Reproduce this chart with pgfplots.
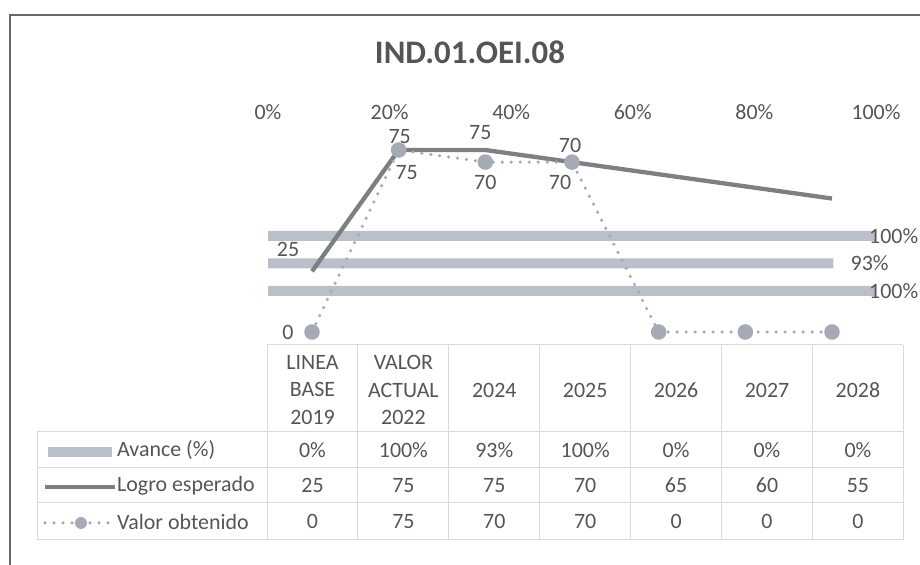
\documentclass[border=0pt]{standalone}
\usepackage{pgfplots}
\pgfplotsset{compat=1.18}
\usepackage{fontspec}
\setmainfont{Carlito}
\definecolor{txt}{RGB}{85,85,85}
\definecolor{barc}{RGB}{186,191,201}
\definecolor{logro}{RGB}{125,127,130}
\definecolor{valor}{RGB}{165,170,182}
\definecolor{gridc}{RGB}{218,218,218}
\definecolor{framec}{RGB}{105,105,105}
\newcommand\tf{\fontsize{22}{28}\selectfont}

\begin{document}
\begin{tikzpicture}[x=1bp,y=1bp]
% frame
\draw[framec, line width=2bp] (10,0) -- (10,550) -- (920,550);
% title
\node[txt, font=\fontsize{33}{40}\selectfont\bfseries] at (470,513) {IND.01.OEI.08};

% ---------- bar axis (Avance %) ----------
\begin{axis}[
  at={(268bp,232.75bp)}, anchor=south west, scale only axis,
  width=608bp, height=209bp,
  xmin=0, xmax=1, ymin=0.5, ymax=8.1,
  xbar, bar width=10bp,
  axis x line*=top, hide y axis,
  x axis line style={draw=none},
  major tick length=0pt,
  xtick={0,0.2,0.4,0.6,0.8,1},
  xticklabels={0\%,20\%,40\%,60\%,80\%,100\%},
  xticklabel style={txt, font=\tf},
  clip=false,
  unbounded coords=discard,
]
\addplot[fill=barc, draw=none, x filter/.expression={x==0 ? nan : x}]
  coordinates {(0,1) (1,2) (0.93,3) (1,4) (0,5) (0,6) (0,7)};
\node[txt, font=\tf, anchor=west, inner sep=0pt, xshift=-7bp] at (axis cs:1,4) {100\%};
\node[txt, font=\tf, anchor=west, inner sep=0pt, xshift=17bp] at (axis cs:0.93,3) {93\%};
\node[txt, font=\tf, anchor=west, inner sep=0pt, xshift=-7bp] at (axis cs:1,2) {100\%};
\end{axis}

% ---------- line axis ----------
\begin{axis}[
  at={(312bp,233bp)}, anchor=south west, scale only axis,
  width=520bp, height=182bp,
  xmin=0, xmax=6, ymin=0, ymax=75,
  hide axis, clip=false,
]
\addplot[logro, line width=4.3bp, line join=round] coordinates {(0,25) (1,75) (2,75) (3,70) (4,65) (5,60) (6,55)};
\addplot[valor, line width=3.5bp, line cap=round, dash pattern=on 0pt off 9bp,
  mark=*, mark size=6bp, mark options={solid, fill=valor, draw=none}]
  coordinates {(0,0) (1,75) (2,70) (3,70) (4,0) (5,0) (6,0)};
% labels Logro esperado
\node[txt, font=\tf] at ([xshift=-24bp,yshift=22bp]axis cs:0,25) {25};
\node[txt, font=\tf] at ([xshift=1bp,yshift=13bp]axis cs:1,75) {75};
\node[txt, font=\tf] at ([xshift=-5bp,yshift=17bp]axis cs:2,75) {75};
\node[txt, font=\tf] at ([xshift=-2bp,yshift=17bp]axis cs:3,70) {70};
% labels Valor obtenido
\node[txt, font=\tf] at ([xshift=-24bp]axis cs:0,0) {0};
\node[txt, font=\tf] at ([xshift=8bp,yshift=-23bp]axis cs:1,75) {75};
\node[txt, font=\tf] at ([xshift=0bp,yshift=-20bp]axis cs:2,70) {70};
\node[txt, font=\tf] at ([xshift=-12bp,yshift=-20bp]axis cs:3,70) {70};
\end{axis}

% ---------- data table ----------
\begin{scope}[gridc, line width=1bp]
\draw (267,220) -- (903.3,220);
\foreach \yy in {133,97,62,25} \draw (37,\yy) -- (903.3,\yy);
\foreach \xx in {267,357.9,448.8,539.7,630.6,721.5,812.4,903.3} \draw (\xx,220) -- (\xx,25);
\draw (37,133) -- (37,25);
\end{scope}
% header
\node[txt, font=\tf, align=center] at (312.5,175) {LINEA\\BASE\\2019};
\node[txt, font=\tf, align=center] at (403.4,175) {VALOR\\ACTUAL\\2022};
\foreach \xx/\lab in {494.3/2024,585.2/2025,676.1/2026,767/2027,857.9/2028}
  \node[txt, font=\tf] at (\xx,175) {\lab};
% rows
\foreach \xx/\a/\b/\c in {312.5/0\%/25/0, 403.4/100\%/75/75, 494.3/93\%/75/70, 585.2/100\%/70/70, 676.1/0\%/65/0, 767/0\%/60/0, 857.9/0\%/55/0}{
  \node[txt, font=\tf] at (\xx,115) {\a};
  \node[txt, font=\tf] at (\xx,79.5) {\b};
  \node[txt, font=\tf] at (\xx,43.5) {\c};
}
% legend keys
\fill[barc] (48,108) rectangle (112,118);
\draw[logro, line width=4.3bp] (45,78) -- (115,78);
\draw[valor, line width=3.5bp, line cap=round, dash pattern=on 0pt off 9bp] (45,42) -- (117,42);
\fill[valor] (81,42) circle (6bp);
\node[txt, font=\tf, anchor=west, inner sep=0pt] at (117,115) {Avance (\%)};
\node[txt, font=\tf, anchor=west, inner sep=0pt] at (117,79.5) {Logro esperado};
\node[txt, font=\tf, anchor=west, inner sep=0pt] at (117,43.5) {Valor obtenido};

\pgfresetboundingbox
\path (0,0) rectangle (920,565);
\end{tikzpicture}
\end{document}
